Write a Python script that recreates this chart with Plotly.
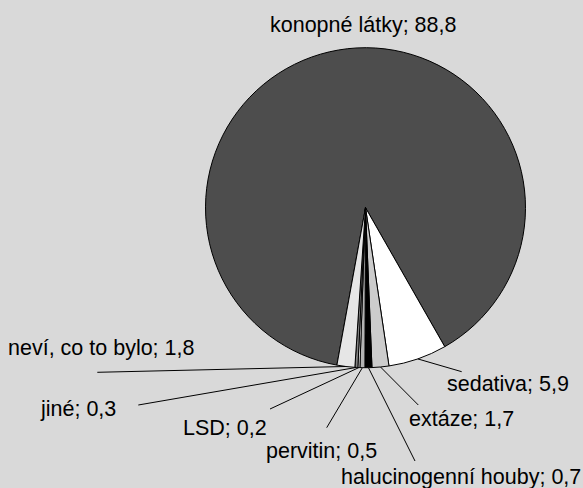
import math
import plotly.graph_objects as go

# Data
labels = ['konopné látky', 'sedativa', 'extáze', 'halucinogenní houby',
          'pervitin', 'LSD', 'jiné', 'neví, co to bylo']
values = [88.8, 5.9, 1.7, 0.7, 0.5, 0.2, 0.3, 1.8]
colors = ['#4d4d4d', '#ffffff', '#cccccc', '#000000',
          '#b3b3b3', '#f2f2f2', '#808080', '#e6e6e6']

# Layout (pixels)
W, H = 583, 488
CX, CY, R = 365.5, 207.7, 160
ROTATION = 190.3

# label centre and outer end of the leader line (None = no line)
label_pos = [(363.5, 25), (508, 384), (461, 419), (461, 476.5),
             (321, 451), (225, 427.5), (77.5, 409), (100.5, 348)]
leader_end = [None, (461.7, 371.7), (418.3, 405), (415, 461),
              (326.7, 427.7), (270, 409), (138.3, 405), (97.3, 372.3)]


def to_paper(px, py):
    return px / W, 1 - py / H


fig = go.Figure()

fig.add_trace(go.Pie(
    labels=labels,
    values=values,
    sort=False,
    direction='clockwise',
    rotation=ROTATION,
    marker=dict(colors=colors, line=dict(color='black', width=1)),
    textinfo='none',
    showlegend=False,
    domain=dict(x=[(CX - R) / W, (CX + R) / W],
                y=[1 - (CY + R) / H, 1 - (CY - R) / H]),
))

# Labels and leader lines from the slice middle on the rim
total = sum(values)
start = ROTATION
for lab, val, pos, end in zip(labels, values, label_pos, leader_end):
    span = val / total * 360
    mid = math.radians(start + span / 2)
    start += span

    text = lab + '; ' + f'{val:.1f}'.replace('.', ',')
    lx, ly = to_paper(*pos)
    fig.add_annotation(x=lx, y=ly, xref='paper', yref='paper', text=text,
                       showarrow=False, xanchor='center', yanchor='middle',
                       font=dict(family='Liberation Sans, Arial', size=21.5, color='black'))

    if end is not None:
        x0, y0 = to_paper(CX + R * math.sin(mid), CY - R * math.cos(mid))
        x1, y1 = to_paper(*end)
        fig.add_shape(type='line', xref='paper', yref='paper',
                      x0=x0, y0=y0, x1=x1, y1=y1,
                      line=dict(color='black', width=1))

fig.update_layout(
    width=W,
    height=H,
    margin=dict(l=0, r=0, t=0, b=0),
    paper_bgcolor='#d9d9d9',
    plot_bgcolor='#d9d9d9',
)

# drop the default page margin so the chart fills the window
fig.write_html("out.html", config={'displayModeBar': False},
               post_script="document.body.style.margin = '0px';")
